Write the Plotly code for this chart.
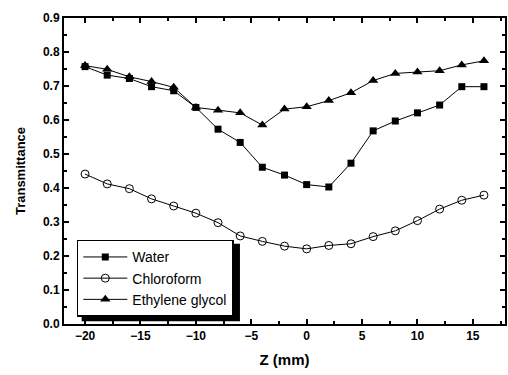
import plotly.graph_objects as go

z = [-20, -18, -16, -14, -12, -10, -8, -6, -4, -2, 0, 2, 4, 6, 8, 10, 12, 14, 16]
water = [0.757, 0.732, 0.722, 0.698, 0.686, 0.637, 0.573, 0.534, 0.461, 0.438, 0.410, 0.403,
         0.473, 0.568, 0.597, 0.621, 0.644, 0.698, 0.698]
chloroform = [0.441, 0.412, 0.398, 0.368, 0.347, 0.326, 0.298, 0.259, 0.243, 0.229, 0.221, 0.231,
              0.236, 0.257, 0.274, 0.304, 0.338, 0.364, 0.379]
glycol = [0.760, 0.749, 0.727, 0.713, 0.696, 0.637, 0.629, 0.621, 0.585, 0.632, 0.639, 0.657,
          0.680, 0.716, 0.737, 0.741, 0.745, 0.762, 0.774]

fig = go.Figure()
fig.add_trace(go.Scatter(x=z, y=water, name="Water", mode="lines+markers",
                         line=dict(color="black", width=1),
                         marker=dict(symbol="square", size=7, color="black")))
fig.add_trace(go.Scatter(x=z, y=chloroform, name="Chloroform", mode="lines+markers",
                         line=dict(color="black", width=1),
                         marker=dict(symbol="circle-open", size=8, color="black", line=dict(width=1))))
fig.add_trace(go.Scatter(x=z, y=glycol, name="Ethylene glycol", mode="lines+markers",
                         line=dict(color="black", width=1),
                         marker=dict(symbol="triangle-up", size=9, color="black")))

axis_common = dict(showline=True, linecolor="black", linewidth=2, mirror="allticks",
                   ticks="inside", ticklen=5, tickwidth=1.5, tickcolor="black",
                   showgrid=False, zeroline=False,
                   tickfont=dict(family="Liberation Sans", size=12, color="black", weight="bold"))

fig.update_xaxes(range=[-21.9, 17.9], dtick=5, tick0=-20,
                 minor=dict(ticks="inside", dtick=2.5, ticklen=3, tickcolor="black"),
                 title=dict(text="Z (mm)", font=dict(family="Liberation Sans", size=15, color="black", weight="bold"),
                            standoff=12),
                 **axis_common)
fig.update_yaxes(range=[0, 0.9], dtick=0.1, tickformat=".1f",
                 minor=dict(ticks="inside", dtick=0.05, ticklen=3, tickcolor="black"),
                 title=dict(text="Transmittance", font=dict(family="Liberation Sans", size=13, color="black", weight="bold"),
                            standoff=14),
                 **axis_common)

# legend drop shadow
fig.add_shape(type="rect", xref="paper", yref="paper", x0=0.04, x1=0.399, y0=0.009, y1=0.262,
              fillcolor="black", line=dict(width=0), layer="above")

fig.update_layout(
    width=508, height=375,
    margin=dict(l=64, r=1, t=18, b=51),
    paper_bgcolor="white", plot_bgcolor="white",
    font=dict(family="Liberation Sans", color="black"),
    legend=dict(x=0.029, y=0.275, xanchor="left", yanchor="top",
                bgcolor="white", bordercolor="black", borderwidth=1.5,
                font=dict(family="Liberation Sans", size=14, color="black"),
                tracegroupgap=0, itemsizing="trace", itemwidth=44),
    showlegend=True,
)

fig.write_html("out.html")
